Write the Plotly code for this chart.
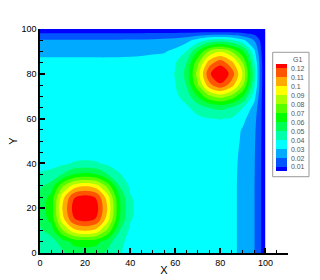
import plotly.graph_objects as go

# grid coordinates (X, Y)
x_vals = [0, 5, 10, 15, 20, 25, 30, 35, 40, 45, 50, 55, 60, 65, 70, 75, 80, 85, 90, 95, 98, 100]
y_vals = [0, 5, 10, 15, 20, 25, 30, 35, 40, 45, 50, 55, 60, 65, 70, 75, 80, 85, 90, 95, 98, 100]

# G1 values, one row per y value
g1_y0 = [.043, .042, .048, .054, .056, .054, .048, .041, .037, .035, .035, .035, .035, .035, .035, .035, .035, .0335, .026, .0205, .0105, 0]
g1_y5 = [.042, .0455, .055, .063, .064, .063, .0545, .043, .037, .035, .035, .035, .035, .035, .035, .035, .035, .0335, .026, .0205, .0105, 0]
g1_y10 = [.048, .055, .079, .096, .101, .096, .0775, .051, .038, .035, .035, .035, .035, .035, .035, .035, .035, .0335, .026, .0205, .0105, 0]
g1_y15 = [.054, .063, .096, .119, .124, .119, .094, .0605, .041, .035, .035, .035, .035, .035, .035, .035, .035, .0335, .026, .0205, .0105, 0]
g1_y20 = [.056, .064, .101, .124, .137, .124, .099, .063, .042, .035, .035, .035, .035, .035, .035, .035, .035, .0335, .026, .0205, .0105, 0]
g1_y25 = [.054, .063, .096, .119, .124, .119, .094, .0605, .041, .035, .035, .035, .035, .035, .035, .035, .035, .0335, .026, .0205, .0105, 0]
g1_y30 = [.048, .0545, .0775, .094, .099, .094, .076, .0505, .038, .035, .035, .035, .035, .035, .035, .035, .035, .0335, .026, .0205, .0105, 0]
g1_y35 = [.041, .043, .051, .0605, .063, .0605, .0505, .041, .036, .035, .035, .035, .035, .035, .035, .035, .035, .0335, .0263, .0207, .0106, 0]
g1_y40 = [.037, .037, .038, .041, .042, .041, .038, .036, .035, .035, .035, .035, .035, .035, .035, .035, .035, .0336, .0267, .0209, .0107, 0]
g1_y45 = [.035, .035, .035, .035, .035, .035, .035, .035, .035, .035, .035, .035, .035, .035, .035, .035, .035, .0337, .0275, .0212, .0108, 0]
g1_y50 = [.035, .035, .035, .035, .035, .035, .035, .035, .035, .035, .035, .035, .035, .035, .035, .035, .035, .0340, .0284, .0216, .0110, 0]
g1_y55 = [.035, .035, .035, .035, .035, .035, .035, .035, .035, .035, .035, .035, .035, .035, .035, .035, .035, .0345, .0291, .0222, .0113, 0]
g1_y60 = [.035, .035, .035, .035, .035, .035, .035, .035, .035, .035, .035, .035, .0353, .0360, .0379, .0397, .0405, .0392, .0325, .0235, .0115, 0]
g1_y65 = [.035, .035, .035, .035, .035, .035, .035, .035, .035, .035, .035, .035, .0360, .0384, .0444, .0506, .0530, .0498, .0403, .0265, .0118, 0]
g1_y70 = [.035, .035, .035, .035, .035, .035, .035, .035, .035, .035, .035, .035, .0379, .0444, .0611, .0782, .0850, .0770, .0603, .0341, .0127, 0]
g1_y75 = [.035, .035, .035, .035, .035, .035, .035, .035, .035, .035, .035, .035, .0397, .0506, .0782, .1068, .1180, .1050, .0809, .0419, .0136, 0]
g1_y80 = [.035, .035, .035, .035, .035, .035, .035, .035, .035, .035, .035, .035, .0405, .0530, .0850, .1180, .1310, .1160, .0890, .0450, .0140, 0]
g1_y85 = [.0335, .0335, .0335, .0335, .0335, .0335, .0335, .0335, .0336, .0337, .0340, .0345, .0392, .0498, .0770, .1050, .1160, .1032, .0796, .0413, .0134, 0]
g1_y90 = [.026, .026, .026, .026, .026, .026, .026, .0263, .0267, .0275, .0284, .0291, .0325, .0403, .0603, .0809, .0890, .0796, .0616, .0326, .0111, 0]
g1_y95 = [.0205, .0205, .0205, .0205, .0205, .0205, .0205, .0207, .0209, .0212, .0216, .0222, .0235, .0265, .0341, .0419, .0450, .0413, .0326, .0195, .0078, 0]
g1_y98 = [.0105, .0105, .0105, .0105, .0105, .0105, .0105, .0106, .0107, .0108, .0110, .0113, .0115, .0118, .0127, .0136, .0140, .0134, .0111, .0078, .0038, 0]
g1_y100 = [0, 0, 0, 0, 0, 0, 0, 0, 0, 0, 0, 0, 0, 0, 0, 0, 0, 0, 0, 0, 0, 0]

g1_rows = [g1_y0, g1_y5, g1_y10, g1_y15, g1_y20, g1_y25, g1_y30, g1_y35, g1_y40, g1_y45,
           g1_y50, g1_y55, g1_y60, g1_y65, g1_y70, g1_y75, g1_y80, g1_y85, g1_y90, g1_y95,
           g1_y98, g1_y100]

# contour levels and legend labels
level_values = [0.01, 0.02, 0.03, 0.04, 0.05, 0.06, 0.07, 0.08, 0.09, 0.10, 0.11, 0.12]
level_labels = ["0.01", "0.02", "0.03", "0.04", "0.05", "0.06", "0.07", "0.08", "0.09", "0.1", "0.11", "0.12"]
band_colors = ["#0000ff", "#0055ff", "#00aaff", "#00ffff", "#00ffaa", "#00ff55", "#00ff00",
               "#55ff00", "#aaff00", "#ffff00", "#ffaa00", "#ff5500", "#ff0000"]

# work in hundredths so that contour levels are exact integers
scale = 100
z = [[v * scale for v in row] for row in g1_rows]
n = len(band_colors) - 1
colorscale = [[i / n, c] for i, c in enumerate(band_colors)]

fig = go.Figure(go.Contour(
    x=x_vals, y=y_vals, z=z,
    contours=dict(start=level_values[0] * scale, end=level_values[-1] * scale,
                  size=(level_values[1] - level_values[0]) * scale,
                  coloring="fill", showlines=False),
    line=dict(width=0, smoothing=1.0),
    colorscale=colorscale,
    colorbar=dict(
        tickmode="array",
        tickvals=[v * scale for v in level_values],
        ticktext=level_labels,
        tickfont=dict(size=7, color="#555"),
        ticks="outside", ticklen=3, tickcolor="rgba(0,0,0,0)",
        thickness=11,
        lenmode="pixels", len=106.6,
        x=0.938, xanchor="left",
        y=0.6027, yanchor="middle",
        outlinewidth=0,
        borderwidth=0,
        bgcolor="rgba(0,0,0,0)",
        xpad=3, ypad=0,
    ),
    hoverinfo="skip",
))

axis_common = dict(
    ticks="inside", ticklen=5, tickwidth=1.5, tickcolor="black",
    showline=True, linecolor="black", linewidth=1.5, mirror=False,
    showgrid=False, zeroline=False, automargin=False,
    tickfont=dict(size=9, color="black"),
    minor=dict(tick0=0, dtick=5, ticks="inside", ticklen=3, tickwidth=1, tickcolor="black", showgrid=False),
)

fig.update_xaxes(range=[0, 110], tick0=0, dtick=20,
                 title=dict(text="X", font=dict(size=11, color="black"), standoff=0),
                 **axis_common)
fig.update_yaxes(range=[0, 100], tick0=0, dtick=20,
                 title=dict(text="Y", font=dict(size=11, color="black"), standoff=2),
                 **axis_common)

# legend frame and title
fig.add_shape(type="rect", xref="paper", yref="paper",
              x0=0.9383, x1=1.0847, y0=0.3406, y1=0.896,
              line=dict(color="#999", width=1), fillcolor="white", layer="above")
fig.add_annotation(text="G1", xref="paper", yref="paper", x=1.040, y=0.866,
                   showarrow=False, font=dict(size=7, color="#555"),
                   xanchor="center", yanchor="middle")

fig.update_layout(
    width=320, height=280,
    margin=dict(l=40, r=32, t=29, b=27),
    paper_bgcolor="white", plot_bgcolor="white",
    font=dict(family="Liberation Sans, Arial, sans-serif", color="black"),
    showlegend=False,
)

fig.write_html("out.html")
